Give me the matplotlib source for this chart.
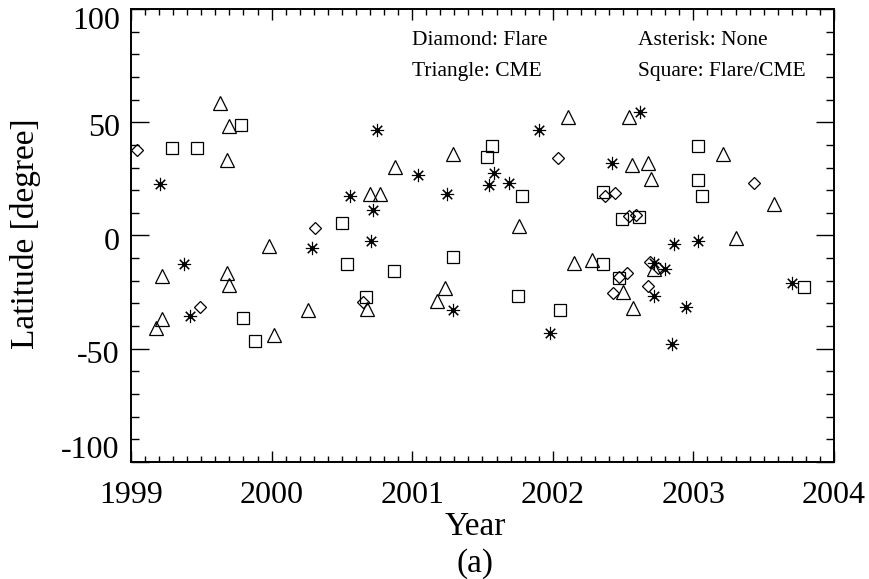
"""
Latitude vs. year of source regions, split by associated activity type.
"""

import matplotlib
matplotlib.use("Agg")
import matplotlib.pyplot as plt
import matplotlib.transforms as mtransforms
from matplotlib.ticker import MultipleLocator

plt.rcParams['font.family'] = ['Liberation Serif', 'DejaVu Serif']

# Diamond: flare only
flare_year = [1999.04, 1999.49, 2000.31, 2000.65, 2002.04, 2002.37, 2002.44,
              2002.54, 2002.59, 2002.47, 2002.53, 2002.43, 2002.69, 2002.75,
              2002.68, 2003.43]
flare_lat = [37.6, -31.7, 3.2, -29.5, 34.4, 17.3, 18.9,
             8.8, 9.2, -18.4, -16.7, -25.5, -11.8, -14.3,
             -22.1, 23.1]

# Triangle: CME only
cme_year = [1999.18, 1999.22, 1999.22, 1999.63, 1999.68, 1999.70, 1999.68,
            1999.70, 1999.98, 2000.02, 2000.26, 2000.68, 2000.70, 2000.77,
            2000.88, 2001.18, 2001.23, 2001.29, 2001.76, 2002.11, 2002.15,
            2002.28, 2002.50, 2002.54, 2002.56, 2002.57, 2002.68, 2002.70,
            2002.72, 2003.21, 2003.30, 2003.57]
cme_lat = [-41.0, -36.9, -17.7, 58.3, 33.2, 48.4, -16.7,
           -21.8, -4.6, -43.9, -32.7, -32.5, 18.1, 18.1,
           30.2, -29.0, -23.2, 36.1, 4.1, 52.1, -12.1,
           -10.8, -25.1, 52.3, 31.3, -32.0, 32.0, 25.1,
           -14.7, 36.1, -1.0, 14.0]

# Square: flare and CME
both_year = [1999.29, 1999.47, 1999.78, 1999.80, 1999.88, 2000.50, 2000.54,
             2000.67, 2000.87, 2001.29, 2001.53, 2001.57, 2001.75, 2001.78,
             2002.05, 2002.36, 2002.36, 2002.47, 2002.49, 2002.61, 2003.03,
             2003.03, 2003.06, 2003.79]
both_lat = [38.6, 38.6, 48.7, -36.6, -46.6, 5.5, -12.5,
            -27.3, -15.5, -9.6, 34.6, 39.5, -26.8, 17.4,
            -32.9, 19.2, -12.8, -18.7, 7.4, 8.1, 39.5,
            24.3, 17.3, -22.9]

# Asterisk: no associated event
none_year = [1999.21, 1999.38, 1999.42, 2000.29, 2000.56, 2000.71, 2000.72,
             2000.75, 2001.04, 2001.25, 2001.29, 2001.55, 2001.58, 2001.69,
             2001.90, 2001.98, 2002.42, 2002.62, 2002.72, 2002.72, 2002.80,
             2002.85, 2002.86, 2002.95, 2003.03, 2003.70]
none_lat = [22.6, -12.5, -35.7, -5.4, 17.3, -2.4, 11.4,
            46.5, 26.5, 18.4, -32.9, 22.4, 27.7, 23.3,
            46.5, -43.1, 32.2, 54.3, -12.2, -26.5, -14.7,
            -47.9, -3.7, -31.7, -2.6, -20.9]

year_ticks = [1999, 2000, 2001, 2002, 2003, 2004]
lat_ticks = [-100, -50, 0, 50, 100]

fig = plt.figure(figsize=(8.69, 5.79), dpi=100)
ax = fig.add_axes([0.1507, 0.2021, 0.809, 0.7824])

open_kw = dict(linestyle='none', markerfacecolor='none',
               markeredgecolor='black', markeredgewidth=0.9)
ax.plot(flare_year, flare_lat, marker='D', markersize=6.5, **open_kw)
ax.plot(cme_year, cme_lat, marker='^', markersize=10, **open_kw)
ax.plot(both_year, both_lat, marker='s', markersize=9, **open_kw)
ax.plot(none_year, none_lat, linestyle='none', marker=(8, 2, 0),
        markersize=9.5, markeredgecolor='black', markeredgewidth=0.8)
ax.plot(none_year, none_lat, linestyle='none', marker='o',
        markersize=2.5, color='black')

ax.set_xlim(1999, 2004)
ax.set_ylim(-100, 100)
ax.set_xticks(year_ticks)
ax.set_yticks(lat_ticks)
ax.set_xticklabels([str(y) for y in year_ticks])
ax.set_yticklabels([str(v) for v in lat_ticks])
ax.xaxis.set_minor_locator(MultipleLocator(0.1))
ax.yaxis.set_minor_locator(MultipleLocator(10))

ax.tick_params(which='both', direction='in', top=True, right=True,
               labelsize=23, width=1.0)
ax.tick_params(axis='x', which='major', length=8, pad=14)
ax.tick_params(axis='x', which='minor', length=4)
ax.tick_params(axis='y', which='major', length=13, pad=8)
ax.tick_params(axis='y', which='minor', length=6)
for sp in ax.spines.values():
    sp.set_linewidth(1.4)

# end labels sit inside the frame height rather than centred on the tick
# (shift in pixels, positive = up)
ylab_shift = {100: -9, 50: -3, 0: -4, -50: -3, -100: 15}
for val, lab in zip(lat_ticks, ax.get_yticklabels()):
    dy = ylab_shift[val] / fig.dpi
    lab.set_transform(lab.get_transform() +
                      mtransforms.ScaledTranslation(0, dy, fig.dpi_scale_trans))

key = [("Diamond: Flare", 0.400, 0.931), ("Triangle: CME", 0.400, 0.861),
       ("Asterisk: None", 0.721, 0.931), ("Square: Flare/CME", 0.721, 0.861)]
for txt, kx, ky in key:
    ax.text(kx, ky, txt, transform=ax.transAxes, fontsize=15.5,
            ha='left', va='center')

fig.text(0.029, 0.596, "Latitude [degree]", rotation=90, fontsize=24,
         ha='center', va='center')
fig.text(0.5466, 0.090, "Year", fontsize=24, ha='center', va='center')
fig.text(0.5466, 0.027, "(a)", fontsize=24, ha='center', va='center')

fig.savefig("out.png", dpi=100)
